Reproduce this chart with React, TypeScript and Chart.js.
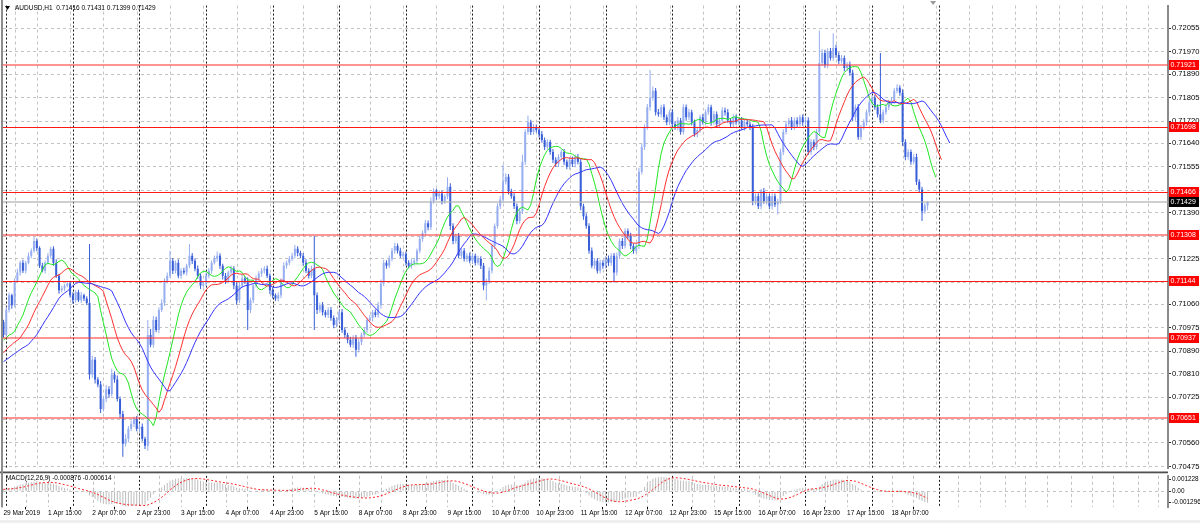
import React, { useEffect, useRef } from "react";
import { Chart, registerables } from "chart.js";

Chart.register(...registerables);

// ---------------- DATA ----------------
const SYMBOL = "AUDUSD,H1";
// hourly closes, in points above 0.70000 (e.g. 1429 = 0.71429); first bar = 29 Mar 23:00
const closePts = [
  949, 1039, 1092, 1056, 1145, 1174, 1210, 1181, 1210, 1235, 1253, 1288, 1263, 1199, 1181, 1210, 1235, 1260, 1210, 1163,
  1110, 1117, 1128, 1135, 1092, 1074, 1103, 1074, 1092, 1081, 1064, 807, 860, 789, 771, 682, 718, 753, 735, 807,
  789, 718, 664, 557, 575, 611, 628, 646, 611, 618, 575, 550, 949, 914, 1003, 967, 1039, 1064, 1145, 1163,
  1217, 1181, 1210, 1163, 1181, 1174, 1199, 1235, 1217, 1188, 1163, 1128, 1135, 1163, 1181, 1210, 1224, 1235, 1199, 1163,
  1145, 1174, 1188, 1128, 1074, 1128, 1153, 1145, 1039, 1074, 1128, 1153, 1171, 1181, 1188, 1163, 1110, 1092, 1081, 1092,
  1145, 1199, 1210, 1224, 1235, 1260, 1245, 1235, 1210, 1181, 1163, 1188, 1092, 1039, 1056, 1031, 1021, 1039, 1010, 985,
  1003, 1031, 967, 949, 932, 914, 939, 896, 924, 949, 967, 1003, 1010, 1031, 1021, 1056, 1135, 1210, 1199, 1224,
  1253, 1270, 1253, 1235, 1240, 1210, 1199, 1210, 1217, 1253, 1295, 1317, 1352, 1338, 1431, 1467, 1449, 1459, 1431, 1449,
  1484, 1342, 1288, 1306, 1235, 1253, 1224, 1235, 1217, 1235, 1210, 1224, 1199, 1128, 1145, 1181, 1270, 1342, 1413, 1438,
  1502, 1520, 1467, 1449, 1413, 1360, 1395, 1574, 1681, 1716, 1681, 1698, 1688, 1673, 1652, 1627, 1645, 1609, 1581, 1566,
  1591, 1609, 1574, 1556, 1581, 1566, 1591, 1574, 1413, 1377, 1342, 1253, 1199, 1217, 1181, 1210, 1199, 1224, 1210, 1235,
  1174, 1235, 1288, 1270, 1324, 1306, 1270, 1253, 1270, 1538, 1627, 1698, 1770, 1805, 1830, 1752, 1745, 1770, 1734, 1716,
  1752, 1709, 1698, 1723, 1681, 1770, 1734, 1752, 1716, 1673, 1688, 1734, 1716, 1752, 1770, 1716, 1745, 1709, 1723, 1759,
  1752, 1723, 1709, 1734, 1716, 1723, 1698, 1716, 1709, 1698, 1431, 1449, 1413, 1467, 1431, 1449, 1413, 1449, 1420, 1431,
  1609, 1681, 1709, 1723, 1698, 1723, 1709, 1734, 1716, 1723, 1609, 1645, 1627, 1681, 1930, 1966, 1923, 1973, 1948, 1984,
  1959, 1937, 1948, 1912, 1923, 1895, 1734, 1770, 1663, 1698, 1716, 1752, 1788, 1805, 1770, 1745, 1723, 1752, 1770, 1788,
  1795, 1830, 1841, 1823, 1645, 1591, 1609, 1574, 1591, 1502, 1474, 1395, 1416, 1429,
];
// upper wick above the body, points
const wickUpPts = [
  8, 12, 10, 6, 9, 14, 7, 10, 6, 12, 8, 15, 9, 6, 11, 8, 10, 7, 9, 12,
  7, 10, 6, 9, 8, 11, 7, 9, 12, 6, 8, 213, 14, 10, 8, 12, 9, 16, 11, 20,
  10, 14, 9, 12, 16, 10, 13, 8, 11, 9, 12, 7, 54, 22, 15, 12, 10, 14, 9, 11,
  36, 10, 8, 12, 9, 11, 7, 42, 10, 8, 12, 9, 7, 11, 10, 8, 12, 15, 9, 7,
  10, 8, 12, 9, 11, 10, 13, 8, 12, 9, 7, 11, 8, 10, 9, 12, 8, 10, 7, 11,
  9, 12, 8, 10, 11, 14, 9, 8, 10, 12, 9, 11, 118, 10, 9, 12, 8, 10, 11, 9,
  11, 9, 12, 10, 8, 11, 9, 10, 12, 8, 10, 9, 11, 8, 10, 12, 14, 10, 9, 12,
  10, 12, 9, 11, 8, 10, 9, 12, 10, 8, 11, 9, 12, 10, 14, 11, 9, 12, 10, 8,
  34, 12, 10, 9, 11, 8, 10, 9, 12, 10, 8, 11, 9, 10, 8, 12, 10, 9, 11, 12,
  61, 12, 10, 9, 11, 10, 12, 25, 10, 25, 9, 11, 10, 8, 12, 9, 10, 8, 11, 9,
  10, 9, 11, 8, 10, 12, 9, 11, 10, 9, 11, 10, 12, 9, 10, 11, 9, 10, 12, 9,
  10, 12, 9, 11, 10, 9, 12, 10, 11, 14, 12, 10, 12, 100, 15, 10, 12, 9, 11, 10,
  9, 11, 10, 12, 9, 11, 10, 12, 9, 10, 11, 9, 12, 10, 11, 9, 12, 10, 9, 11,
  10, 12, 9, 11, 10, 9, 12, 10, 11, 9, 12, 10, 11, 9, 12, 10, 9, 11, 10, 9,
  12, 10, 11, 9, 12, 10, 11, 9, 10, 12, 11, 10, 9, 12, 117, 14, 12, 10, 11, 53,
  12, 10, 11, 9, 10, 12, 11, 10, 12, 9, 11, 10, 12, 9, 10, 11, 221, 10, 12, 9,
  11, 10, 12, 9, 12, 10, 11, 9, 10, 12, 9, 10, 8, 2,
];
// lower wick below the body, points
const wickDnPts = [
  10, 6, 9, 12, 7, 5, 11, 8, 10, 6, 9, 7, 12, 8, 6, 10, 7, 9, 11, 8,
  12, 8, 10, 7, 9, 12, 8, 6, 10, 9, 7, 18, 12, 15, 10, 14, 9, 11, 13, 8,
  12, 9, 15, 47, 10, 13, 8, 11, 9, 14, 10, 12, 18, 9, 11, 8, 12, 7, 10, 9,
  8, 12, 10, 9, 11, 7, 10, 8, 12, 9, 11, 13, 8, 10, 9, 11, 7, 10, 12, 14,
  12, 9, 8, 14, 16, 10, 9, 12, 72, 11, 10, 8, 9, 12, 10, 8, 13, 11, 9, 10,
  10, 8, 11, 9, 8, 10, 12, 9, 11, 8, 10, 9, 125, 14, 10, 12, 9, 11, 10, 12,
  9, 12, 10, 11, 13, 9, 12, 25, 10, 11, 8, 10, 9, 12, 8, 10, 12, 9, 11, 8,
  9, 11, 10, 8, 12, 10, 9, 11, 10, 12, 9, 10, 8, 11, 10, 9, 12, 10, 11, 9,
  10, 14, 12, 10, 9, 11, 10, 12, 9, 11, 10, 9, 12, 18, 54, 12, 10, 11, 9, 10,
  12, 10, 11, 9, 10, 12, 9, 10, 12, 9, 11, 10, 9, 12, 10, 11, 9, 10, 12, 11,
  11, 10, 12, 9, 10, 11, 12, 9, 14, 12, 10, 11, 9, 12, 10, 9, 11, 10, 12, 11,
  36, 10, 12, 11, 9, 10, 12, 11, 9, 12, 10, 11, 9, 12, 10, 11, 9, 12, 10, 11,
  10, 12, 9, 11, 10, 9, 12, 10, 11, 9, 12, 10, 9, 11, 10, 12, 9, 10, 11, 9,
  11, 9, 10, 12, 9, 11, 10, 12, 9, 10, 14, 12, 10, 11, 9, 12, 10, 11, 9, 36,
  10, 11, 9, 12, 10, 9, 11, 10, 12, 9, 11, 10, 12, 9, 14, 11, 10, 12, 9, 11,
  10, 11, 9, 12, 10, 11, 14, 12, 10, 11, 9, 12, 10, 11, 9, 12, 10, 11, 9, 10,
  10, 12, 9, 11, 14, 12, 10, 11, 9, 12, 10, 35, 9, 17,
];
const FIRST_OPEN_PTS = 996;

// Alligator values visible at the left edge (before the first computed, shifted value), points
const lipsLeadPts = [931, 938, 949]; // SMMA 5, shift 3
const teethLeadPts = [885, 896, 907, 914, 924]; // SMMA 8, shift 5
const jawLeadPts = [853, 860, 867, 875, 882, 889, 896, 903]; // SMMA 13, shift 8

const priceTicks = [
  0.72055, 0.7197, 0.7189, 0.71805, 0.7172, 0.7164, 0.71555, 0.7147, 0.7139, 0.71305,
  0.71225, 0.7114, 0.7106, 0.70975, 0.7089, 0.7081, 0.70725, 0.70645, 0.7056, 0.70475,
];
const levelPrices = [0.71921, 0.71698, 0.71466, 0.71308, 0.71144, 0.70937, 0.70651];
const BID_PRICE = 0.71429;

const timeTickLabels = [
  "29 Mar 2019", "1 Apr 15:00", "2 Apr 07:00", "2 Apr 23:00", "3 Apr 15:00", "4 Apr 07:00",
  "4 Apr 23:00", "5 Apr 15:00", "8 Apr 07:00", "8 Apr 23:00", "9 Apr 15:00", "10 Apr 07:00",
  "10 Apr 23:00", "11 Apr 15:00", "12 Apr 07:00", "12 Apr 23:00", "15 Apr 15:00", "16 Apr 07:00",
  "16 Apr 23:00", "17 Apr 15:00", "18 Apr 07:00",
];
const TICK_EVERY_BARS = 16;
const FIRST_MIDNIGHT_IDX = 1;

const MACD_TITLE = "MACD(12,26,9)";
const macdHeaderValues = ["-0.000876", "-0.000614"];
const macdRange = [-0.001296, 0.001228];
const macdTickLabels = ["0.001228", "0.00", "-0.001296"];
const EMA_FAST_SEED = 0.7099;
const EMA_SLOW_SEED = 0.7097;
const macdLeadValues = [0.00005, 0.0001, 0.00012, 0.00015, 0.00016, 0.00018, 0.0002, 0.0002];

// ---------------- GEOMETRY / STYLE ----------------
const W = 1200;
const MAIN_CANVAS_H = 474;
const SUB_TOP = 471;
const SUB_H = 52;
const AREA_LEFT = 3;
const AXIS_W = 32;
const BAR_PX = 2.775;
const FIRST_BAR_X = 3.5;
const X_MIN = -(FIRST_BAR_X - AREA_LEFT) / BAR_PX;
const X_MAX = (W - AXIS_W - FIRST_BAR_X) / BAR_PX;
const MAIN_TOP = 2;
const MAIN_BOTTOM = 470;
const TICK_TOP_Y = 25;
const TICK_BOTTOM_Y = 468;
const PRICE_PER_PX = (priceTicks[0] - priceTicks[priceTicks.length - 1]) / (TICK_BOTTOM_Y - TICK_TOP_Y);
const Y_MAX = priceTicks[0] + (TICK_TOP_Y - MAIN_TOP) * PRICE_PER_PX;
const Y_MIN = priceTicks[priceTicks.length - 1] - (MAIN_BOTTOM - TICK_BOTTOM_Y) * PRICE_PER_PX;
const SUB_AREA_TOP = 1.5;
const SUB_AXIS_H = 15.6;

const FONT = "'Liberation Sans', Arial, sans-serif";
const GRID = "#c3c3c3";
const BULL = "rgb(150,174,240)";
const BEAR = "rgb(56,94,216)";
const levelStrong = [false, true, true, false, true, false, false];

// ---------------- DERIVED SERIES ----------------
const toPrice = (pts: number) => (70000 + pts) / 100000;
const N = closePts.length;
const O: number[] = [], H: number[] = [], L: number[] = [], C: number[] = [];
for (let i = 0; i < N; i++) {
  const op = i === 0 ? FIRST_OPEN_PTS : closePts[i - 1];
  const cp = closePts[i];
  const hp = Math.max(op, cp) + (wickUpPts[i] || 0);
  const lp = Math.min(op, cp) - (wickDnPts[i] || 0);
  O.push(toPrice(op)); C.push(toPrice(cp)); H.push(toPrice(hp)); L.push(toPrice(lp));
}

function alligatorLine(period: number, lead: number[]) {
  const shift = lead.length;
  const pts = lead.map((v, i) => ({ x: i, y: toPrice(v) }));
  let s = toPrice(lead[shift - 1]);
  for (let k = 0; k < N; k++) {
    const med = (H[k] + L[k]) / 2;
    s = (s * (period - 1) + med) / period;
    pts.push({ x: k + shift, y: s });
  }
  return pts;
}

function macdSeries() {
  let ef = EMA_FAST_SEED, es = EMA_SLOW_SEED;
  const main: number[] = [];
  for (let k = 0; k < N; k++) {
    ef += (2 / 13) * (C[k] - ef);
    es += (2 / 27) * (C[k] - es);
    main.push(ef - es);
  }
  const all = [...macdLeadValues, ...main];
  const sig: number[] = [];
  for (let k = 0; k < N; k++) {
    let sum = 0;
    for (let j = k; j < k + 9; j++) sum += all[j];
    sig.push(sum / 9);
  }
  return { main, sig };
}

const separators: number[] = [];
for (let m = FIRST_MIDNIGHT_IDX; m - 24 <= N - 1; m += 24) separators.push(m);
const grayGrid: number[] = [];
for (let m = FIRST_MIDNIGHT_IDX; m <= X_MAX; m += 24) {
  if (!separators.includes(m)) grayGrid.push(m);
  for (const off of [7.3, 15.1]) if (m + off <= X_MAX) grayGrid.push(m + off);
}

function drawSeparators(chart: any, scaleId: string) {
  const { ctx, chartArea } = chart;
  const xs = chart.scales[scaleId];
  ctx.save();
  ctx.strokeStyle = "rgba(0,0,0,0.9)";
  ctx.lineWidth = 1;
  ctx.setLineDash([2, 2]);
  for (const m of separators) {
    const px = Math.round(xs.getPixelForValue(m)) + 0.5;
    ctx.beginPath();
    ctx.moveTo(px, chartArea.top);
    ctx.lineTo(px, chartArea.bottom);
    ctx.stroke();
  }
  ctx.restore();
}

function mainConfig(): any {
  const bodies = O.map((o, i) => ({ x: i, y: [o, C[i]] }));
  const wicks = O.map((o, i) => ({ x: i, y: [L[i], H[i]] }));
  const colors = O.map((o, i) => (C[i] > o ? BULL : BEAR));
  const decor = {
    id: "mainDecor",
    beforeDatasetsDraw(chart: any) {
      drawSeparators(chart, "x");
    },
    afterDatasetsDraw(chart: any) {
      const { ctx, chartArea } = chart;
      const ys = chart.scales.y;
      ctx.save();
      const by = Math.round(ys.getPixelForValue(BID_PRICE));
      ctx.strokeStyle = "rgba(175,175,175,0.6)";
      ctx.lineWidth = 2;
      ctx.beginPath(); ctx.moveTo(chartArea.left, by); ctx.lineTo(chartArea.right, by); ctx.stroke();
      levelPrices.forEach((p, i) => {
        const y = ys.getPixelForValue(p);
        if (levelStrong[i]) {
          ctx.strokeStyle = "#ff1a1a"; ctx.lineWidth = 1;
          const yy = Math.round(y) + 0.5;
          ctx.beginPath(); ctx.moveTo(chartArea.left, yy); ctx.lineTo(chartArea.right, yy); ctx.stroke();
        } else {
          ctx.strokeStyle = "rgba(255,60,60,0.55)"; ctx.lineWidth = 2;
          const yy = Math.round(y);
          ctx.beginPath(); ctx.moveTo(chartArea.left, yy); ctx.lineTo(chartArea.right, yy); ctx.stroke();
        }
      });
      ctx.restore();
    },
    afterDraw(chart: any) {
      const { ctx, chartArea } = chart;
      const ys = chart.scales.y;
      const xs = chart.scales.x;
      ctx.save();
      const box = (p: number, bg: string) => {
        const y = Math.round(ys.getPixelForValue(p));
        ctx.fillStyle = bg;
        ctx.fillRect(chartArea.right + 1, y - 5, 30, 10);
        ctx.fillStyle = "#fff";
        ctx.font = `7px ${FONT}`;
        ctx.textBaseline = "middle";
        ctx.textAlign = "left";
        ctx.fillText(p.toFixed(5), chartArea.right + 2.5, y + 0.5);
      };
      levelPrices.forEach((p) => box(p, "#ff0000"));
      box(BID_PRICE, "#000000");
      ctx.fillStyle = "#000";
      ctx.beginPath(); ctx.moveTo(5, 6); ctx.lineTo(10, 6); ctx.lineTo(7.5, 10); ctx.closePath(); ctx.fill();
      ctx.font = `6.5px ${FONT}`;
      ctx.textBaseline = "middle";
      const last = N - 1;
      const txt = `${SYMBOL}  ${O[last].toFixed(5)} ${H[last].toFixed(5)} ${L[last].toFixed(5)} ${C[last].toFixed(5)}`;
      ctx.fillText(txt, 15, 8.5);
      const sx = xs.getPixelForValue(N + 1);
      ctx.fillStyle = "#9a9a9a";
      ctx.beginPath(); ctx.moveTo(sx - 3, 1); ctx.lineTo(sx + 3, 1); ctx.lineTo(sx, 5); ctx.closePath(); ctx.fill();
      ctx.fillStyle = "#8c8c8c";
      ctx.fillRect(1, 0, 2, MAIN_CANVAS_H);
      ctx.restore();
    },
  };
  return {
    type: "line",
    data: {
      datasets: [
        { type: "line", data: alligatorLine(13, jawLeadPts), borderColor: "#3535ff", borderWidth: 1, pointRadius: 0, tension: 0, order: 0 },
        { type: "line", data: alligatorLine(8, teethLeadPts), borderColor: "#ff3030", borderWidth: 1, pointRadius: 0, tension: 0, order: 0 },
        { type: "line", data: alligatorLine(5, lipsLeadPts), borderColor: "#22e622", borderWidth: 1, pointRadius: 0, tension: 0, order: 0 },
        { type: "bar", data: bodies, backgroundColor: colors, barThickness: 2, grouped: false, minBarLength: 1, borderWidth: 0, inflateAmount: 0, order: 1 },
        { type: "bar", data: wicks, backgroundColor: colors, barThickness: 1, grouped: false, borderWidth: 0, inflateAmount: 0, order: 2 },
      ],
    },
    options: {
      animation: false,
      responsive: false,
      devicePixelRatio: 1,
      events: [],
      layout: { padding: { left: AREA_LEFT, top: MAIN_TOP, right: 0, bottom: MAIN_CANVAS_H - MAIN_BOTTOM } },
      plugins: { legend: { display: false }, tooltip: { enabled: false }, title: { display: false } },
      scales: {
        x: {
          type: "linear", min: X_MIN, max: X_MAX, offset: false, position: "bottom",
          afterBuildTicks: (s: any) => { s.ticks = grayGrid.map((v) => ({ value: v })); },
          afterFit: (s: any) => { s.height = 0; },
          ticks: { display: false },
          grid: { color: GRID, lineWidth: 1, drawTicks: false },
          border: { display: false, dash: [3, 3] },
        },
        y: {
          type: "linear", position: "right", min: Y_MIN, max: Y_MAX,
          afterBuildTicks: (s: any) => { s.ticks = priceTicks.map((v) => ({ value: v })); },
          afterFit: (s: any) => { s.width = AXIS_W; },
          ticks: {
            autoSkip: false, padding: 1, color: "#000",
            font: { family: FONT, size: 7.6 },
            callback: (v: any) => Number(v).toFixed(5),
          },
          grid: { color: GRID, lineWidth: 1, tickLength: 3, tickColor: "#303030", tickBorderDash: [] },
          border: { display: true, color: "#8a8a8a", width: 2, dash: [3, 3] },
        },
      },
    },
    plugins: [decor],
  };
}

function subConfig(): any {
  const { main, sig } = macdSeries();
  const unit = (macdRange[1] - macdRange[0]) / (SUB_H - SUB_AXIS_H - SUB_AREA_TOP);
  const macdTickValues = [macdRange[1] - 4.2 * unit, 0, macdRange[0] + 5.4 * unit];
  const decor = {
    id: "subDecor",
    beforeDatasetsDraw(chart: any) {
      drawSeparators(chart, "x");
    },
    afterDraw(chart: any) {
      const { ctx, chartArea } = chart;
      ctx.save();
      ctx.fillStyle = "#505050";
      ctx.fillRect(0, 0.5, chartArea.right, 1.8);
      ctx.fillStyle = "#8c8c8c";
      ctx.fillRect(1, 0, 2, chartArea.bottom);
      ctx.fillStyle = "#000";
      ctx.font = `6.4px ${FONT}`;
      ctx.textBaseline = "middle";
      ctx.textAlign = "left";
      ctx.fillText(`${MACD_TITLE} ${macdHeaderValues.join(" ")}`, 6, 7.3);
      ctx.restore();
    },
  };
  return {
    type: "line",
    data: {
      datasets: [
        { type: "line", data: sig.map((v, i) => ({ x: i, y: v })), borderColor: "#ff2020", borderWidth: 1, borderDash: [2, 2], pointRadius: 0, tension: 0, order: 0 },
        { type: "bar", data: main.map((v, i) => ({ x: i, y: v })), backgroundColor: "#bdbdbd", barThickness: 1, grouped: false, borderWidth: 0, inflateAmount: 0, order: 1 },
      ],
    },
    options: {
      animation: false,
      responsive: false,
      devicePixelRatio: 1,
      events: [],
      layout: { padding: { left: AREA_LEFT, top: SUB_AREA_TOP, right: 0, bottom: 0 } },
      plugins: { legend: { display: false }, tooltip: { enabled: false }, title: { display: false } },
      scales: {
        x: {
          type: "linear", min: X_MIN, max: X_MAX, offset: false, position: "bottom",
          afterBuildTicks: (s: any) => { s.ticks = timeTickLabels.map((_, i) => ({ value: i * TICK_EVERY_BARS })); },
          afterFit: (s: any) => { s.height = SUB_AXIS_H; },
          ticks: {
            autoSkip: false, maxRotation: 0, minRotation: 0, align: "start", padding: 0, color: "#000",
            font: { family: FONT, size: 6.5 },
            callback: (_v: any, i: number) => timeTickLabels[i],
          },
          grid: { drawOnChartArea: false, drawTicks: true, tickLength: 2, tickColor: "#000", color: "#000" },
          border: { display: false },
        },
        xg: {
          type: "linear", min: X_MIN, max: X_MAX, offset: false, position: "bottom",
          afterBuildTicks: (s: any) => { s.ticks = grayGrid.map((v) => ({ value: v })); },
          afterFit: (s: any) => { s.height = 0; },
          ticks: { display: false },
          grid: { color: GRID, lineWidth: 1, drawTicks: false },
          border: { display: false, dash: [3, 3] },
        },
        y: {
          type: "linear", position: "right", min: macdRange[0], max: macdRange[1],
          afterBuildTicks: (s: any) => { s.ticks = macdTickValues.map((v) => ({ value: v })); },
          afterFit: (s: any) => { s.width = AXIS_W; },
          ticks: {
            autoSkip: false, padding: 1, color: "#000",
            font: { family: FONT, size: 6.4 },
            callback: (_v: any, i: number) => macdTickLabels[i],
          },
          grid: {
            color: (ctx: any) => (ctx.index === 1 ? GRID : "rgba(0,0,0,0)"),
            lineWidth: 1, tickLength: 3, tickColor: "#303030", tickBorderDash: [],
          },
          border: { display: true, color: "#8a8a8a", width: 2, dash: [3, 3] },
        },
      },
    },
    plugins: [decor],
  };
}

export default function App() {
  const mainRef = useRef<HTMLCanvasElement>(null);
  const subRef = useRef<HTMLCanvasElement>(null);
  useEffect(() => {
    const a = new Chart(mainRef.current as HTMLCanvasElement, mainConfig());
    const b = new Chart(subRef.current as HTMLCanvasElement, subConfig());
    return () => {
      a.destroy();
      b.destroy();
    };
  }, []);
  return (
    <div style={{ position: "fixed", left: 0, top: 0, width: W, height: 523, background: "#fff", overflow: "hidden" }}>
      <canvas ref={mainRef} width={W} height={MAIN_CANVAS_H} style={{ position: "absolute", left: 0, top: 0, width: W, height: MAIN_CANVAS_H }} />
      <canvas ref={subRef} width={W} height={SUB_H} style={{ position: "absolute", left: 0, top: SUB_TOP, width: W, height: SUB_H }} />
      <div style={{ position: "absolute", left: 0, top: 520, width: W, height: 3, background: "#efefef" }} />
    </div>
  );
}
